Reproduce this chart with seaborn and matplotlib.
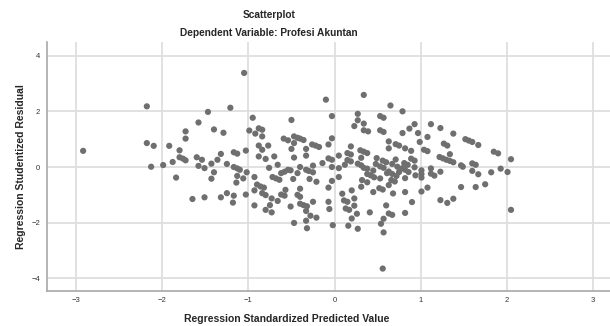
import matplotlib
matplotlib.use("Agg")
import matplotlib.pyplot as plt
import seaborn as sns
import pandas as pd

# values (standardized predicted, studentized residual)
pred = [
    -2.92, -2.18, -2.18, -2.10, -2.13, -1.99, -1.92, -1.88, -1.84, -1.80,
    -1.80, -1.76, -1.73, -1.73, -1.73, -1.65, -1.60, -1.58, -1.58, -1.54,
    -1.51, -1.51, -1.47, -1.43, -1.43, -1.40, -1.40, -1.36, -1.32, -1.32,
    -1.29, -1.25, -1.25, -1.21, -1.17, -1.13, -1.17, -1.13, -1.10, -1.18,
    -1.17, -1.13, -1.14, -1.06, -1.03, -1.03, -1.02, -1.05, -0.99, -0.95,
    -0.93, -0.93, -0.93, -0.92, -0.88, -0.84, -0.84, -0.88, -0.84, -0.77,
    -0.88, -0.80, -0.70, -0.76, -0.66, -0.72, -0.68, -0.64, -0.62, -0.58,
    -0.54, -0.51, -0.90, -0.86, -0.82, -0.84, -0.80, -0.73, -0.66, -0.57,
    -0.62, -0.58, -0.75, -0.80, -0.73, -0.59, -0.54, -0.50, -0.47, -0.43,
    -0.40, -0.36, -0.47, -0.50, -0.47, -0.40, -0.43, -0.48, -0.40, -0.43,
    -0.40, -0.40, -0.36, -0.32, -0.25, -0.51, -0.47, -0.33, -0.28, -0.21,
    -0.32, -0.33, -0.33, -0.26, -0.22, -0.18, -0.33, -0.33, -0.30, -0.25,
    -0.25, -0.29, -0.21, -0.14, -0.10, -0.03, -0.07, -0.03, -0.07, -0.03,
    -0.03, -0.03, -0.07, -0.07, -0.06, -0.02, 0.05, 0.05, 0.05, 0.12,
    0.09, 0.11, 0.15, 0.13, 0.17, 0.19, 0.15, 0.19, 0.16, 0.20,
    0.20, 0.23, 0.23, 0.26, 0.27, 0.23, 0.27, 0.27, 0.34, 0.34,
    0.34, 0.39, 0.30, 0.34, 0.38, 0.31, 0.15, 0.19, 0.27, 0.31,
    0.34, 0.38, 0.45, 0.38, 0.42, 0.46, 0.32, 0.38, 0.31, 0.45,
    0.52, 0.56, 0.41, 0.49, 0.48, 0.56, 0.60, 0.53, 0.57, 0.53,
    0.61, 0.53, 0.57, 0.53, 0.57, 0.65, 0.63, 0.63, 0.57, 0.54,
    0.57, 0.56, 0.60, 0.63, 0.67, 0.71, 0.75, 0.79, 0.79, 0.87,
    0.93, 0.97, 0.82, 0.89, 0.99, 1.04, 1.08, 1.08, 1.12, 0.89,
    0.93, 0.71, 0.67, 0.73, 0.79, 0.85, 0.93, 0.81, 0.75, 0.82,
    0.86, 0.94, 1.01, 0.82, 0.67, 0.72, 0.63, 0.66, 0.70, 0.63,
    0.68, 0.82, 1.01, 1.08, 1.01, 1.01, 0.90, 0.82, 1.12, 1.16,
    1.12, 1.23, 1.23, 1.38, 1.27, 1.31, 1.52, 1.56, 1.60, 1.67,
    1.34, 1.22, 1.26, 1.30, 1.34, 1.38, 1.47, 1.49, 1.60, 1.64,
    1.85, 1.90, 2.05, 1.93, 2.01, 1.82, 1.67, 1.60, 1.47, 1.64,
    1.75, 1.23, 1.31, 1.38, 2.05,
]
resid = [
    0.58, 2.18, 0.86, 0.76, 0.01, 0.07, 0.76, 0.18, -0.38, 0.60,
    0.35, 0.30, 0.24, 1.28, 1.02, -1.15, 0.35, 1.60, 0.04, 0.26,
    -0.04, -1.09, 1.98, 0.12, -0.42, 1.35, -0.19, 0.26, 0.47, -1.09,
    1.23, 0.11, -0.94, 2.13, 0.53, 0.48, 0.00, -0.05, -0.10, -1.28,
    -1.03, -0.32, -0.56, -0.41, -0.99, 0.59, -0.19, 3.38, 1.31, 1.77,
    -1.38, -0.84, -0.36, 1.20, 1.39, 1.34, 1.10, 0.77, 0.62, 0.77,
    0.38, 0.29, 0.38, -0.03, 0.08, -0.36, -0.41, -0.46, -0.22, -0.17,
    -0.10, -0.12, -0.63, -0.70, -0.74, -0.94, -1.01, -1.13, -1.22, -0.82,
    -0.99, -1.03, -1.37, -1.54, -1.63, 1.02, 0.96, 1.69, 1.10, 1.05,
    1.02, 0.97, 0.86, 0.65, 0.34, 0.00, -0.22, -0.43, -0.78, -1.00,
    -1.07, -1.32, -1.37, -1.41, -1.25, -1.42, -2.01, -1.93, -1.75, -1.82,
    -2.20, -1.58, 0.65, 0.81, 0.77, 0.72, 0.41, -0.10, -0.14, -0.19,
    0.05, -0.43, -0.53, 0.14, 2.42, 1.83, 0.81, 1.03, 0.31, 0.26,
    0.00, -0.50, -0.74, -1.25, -1.51, -2.09, 0.41, -0.04, -0.36, 0.08,
    -0.96, -1.20, -1.25, -1.49, -1.54, 0.74, 0.50, 0.45, -2.11, -1.85,
    -0.84, -1.13, -1.39, -1.68, -2.22, 1.47, 1.91, 1.68, 2.59, 1.56,
    1.32, 1.28, 0.60, 0.55, 0.50, 0.33, 0.25, 0.20, 0.12, 0.06,
    -0.03, -0.06, -0.13, -0.25, -0.30, -0.37, -0.47, -0.55, -0.71, -0.90,
    -0.76, -0.81, -1.63, 0.32, 0.11, 0.23, 0.17, 0.02, -0.03, -0.41,
    -0.22, 1.83, 1.77, 1.32, 1.26, 2.21, 0.92, 0.67, -1.86, -2.04,
    -2.35, -3.65, -1.38, -1.67, -1.72, 0.82, 0.77, 2.00, 1.22, 1.38,
    1.54, 1.22, 0.67, 0.58, 0.90, 0.62, 0.57, 1.08, 1.54, 0.30,
    0.23, 0.27, 0.11, 0.01, -0.04, 0.08, -0.01, 0.14, -0.18, -0.10,
    -0.18, -0.30, -0.25, -0.40, -0.25, -0.32, -0.16, -0.47, -0.52, -0.65,
    -0.95, -0.90, -0.88, -0.74, -0.38, -0.12, -1.26, -1.65, -0.24, -0.31,
    -0.05, -0.17, 1.40, 1.20, 0.84, 0.77, 1.00, 0.95, 0.90, 0.79,
    0.46, 0.36, 0.31, 0.26, 0.22, 0.17, 0.06, 0.01, 0.13, 0.08,
    0.55, 0.49, 0.28, -0.06, -0.18, -0.19, -0.26, -0.14, -0.72, -0.72,
    -0.62, -1.19, -1.29, -1.14, -1.54,
]
x_ticks = [-3, -2, -1, 0, 1, 2, 3]
y_ticks = [-4, -2, 0, 2, 4]

df = pd.DataFrame({"pred": pred, "resid": resid})

sns.set_style("white")
plt.rcParams["font.family"] = ["Liberation Sans", "DejaVu Sans"]

fig = plt.figure(figsize=(6.1, 3.26), dpi=100)
ax = fig.add_axes([0.077, 0.107, 0.923, 0.764])

sns.scatterplot(data=df, x="pred", y="resid", ax=ax, color="#6f6f6f",
                s=20, edgecolor="none", zorder=3)

ax.set_xlim(-3.34, 3.2)
ax.set_ylim(-4.46, 4.49)
ax.set_xticks(x_ticks)
ax.set_yticks(y_ticks)
ax.grid(True, color="#dedede", linewidth=1.3, zorder=0)
ax.set_axisbelow(True)
ax.tick_params(axis="both", length=0, labelsize=5.5, colors="#333333", pad=4)
ax.tick_params(axis="y", pad=5)

for side in ["top", "right"]:
    ax.spines[side].set_visible(False)
for side in ["left", "bottom"]:
    ax.spines[side].set_color("#a8a8a8")
    ax.spines[side].set_linewidth(1.2)

ax.set_xlabel("")
ax.set_ylabel("")
fig.text(0.47, 0.022, "Regression Standardized Predicted Value", ha="center",
         va="center", fontsize=7.5, fontweight="bold")
fig.text(0.034, 0.49, "Regression Studentized Residual", ha="center",
         va="center", rotation=90, fontsize=7.5, fontweight="bold")

fig.text(0.441, 0.954, "Scatterplot", ha="center", va="center",
         fontsize=7.3, fontweight="bold")
fig.text(0.441, 0.9, "Dependent Variable: Profesi Akuntan", ha="center",
         va="center", fontsize=7.3, fontweight="bold")

fig.savefig("out.png", dpi=100)
